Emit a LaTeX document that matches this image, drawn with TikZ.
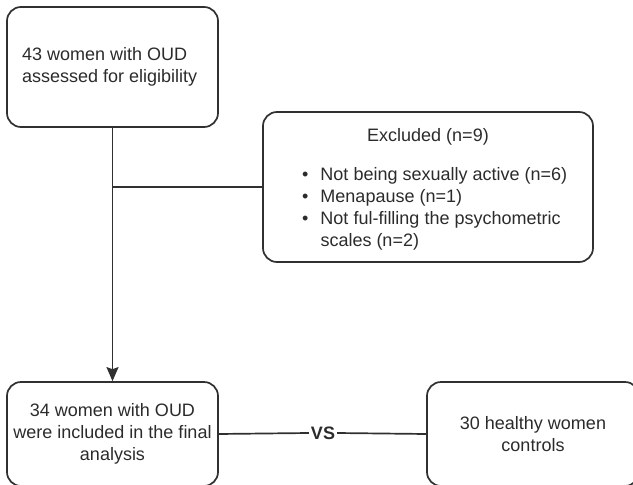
\documentclass[tikz,border=0pt]{standalone}
\usepackage{fontspec}
\setmainfont{Liberation Sans}
\usetikzlibrary{arrows.meta}
\definecolor{linegray}{HTML}{303030}
\definecolor{textgray}{HTML}{2B2B2B}

\begin{document}
\begin{tikzpicture}[x=1pt, y=-1pt,
    flowbox/.style={draw=linegray, line width=1.7pt, rectangle, rounded corners=14pt,
      inner sep=0pt, align=center, text=textgray},
    link/.style={draw=linegray, line width=1.7pt}]
  \useasboundingbox (0,0) rectangle (633,485);
  \clip (0,0) rectangle (633,485);
  \fontsize{18}{22}\selectfont

  % boxes
  \node[flowbox, minimum width=211pt, minimum height=120pt] (assess) at (112.5,67) {};
  \node[text=textgray, inner sep=0pt, align=left, anchor=west] (assesstext) at (22,67)
    {43 women with OUD\\assessed for eligibility};
  \node[flowbox, minimum width=330pt, minimum height=150pt] (excl) at (428,187) {};
  \node[text=textgray, inner sep=0pt] (excltitle) at (428,137) {Excluded (n=9)};
  \node[text=textgray, inner sep=0pt, anchor=north west] (excllist) at (302,165)
    {\renewcommand{\arraystretch}{1}%
     \begin{tabular}{@{}c@{\hspace{12pt}}l@{}}
       \textbullet & Not being sexually active (n=6)\\
       \textbullet & Menapause (n=1)\\
       \textbullet & Not ful-filling the psychometric\\
                   & scales (n=2)
     \end{tabular}};
  \node[flowbox, minimum width=211pt, minimum height=104pt] (include) at (112.5,434)
    {34 women with OUD\\were included in the final\\analysis};
  \node[flowbox, minimum width=212pt, minimum height=104pt] (controls) at (533,434)
    {30 healthy women\\controls};
  \node[text=textgray, inner sep=2pt] (vs) at (323,433) {\bfseries VS};

  % connectors
  \draw[link, -{Stealth[length=14pt, width=12pt, inset=2pt]}] (assess) -- (include);
  \draw[link] (assess.south |- excl.west) -- (excl.west);
  \draw[link] (include.east) -- (vs.west);
  \draw[link] (vs.east) -- (controls.west);
\end{tikzpicture}
\end{document}
